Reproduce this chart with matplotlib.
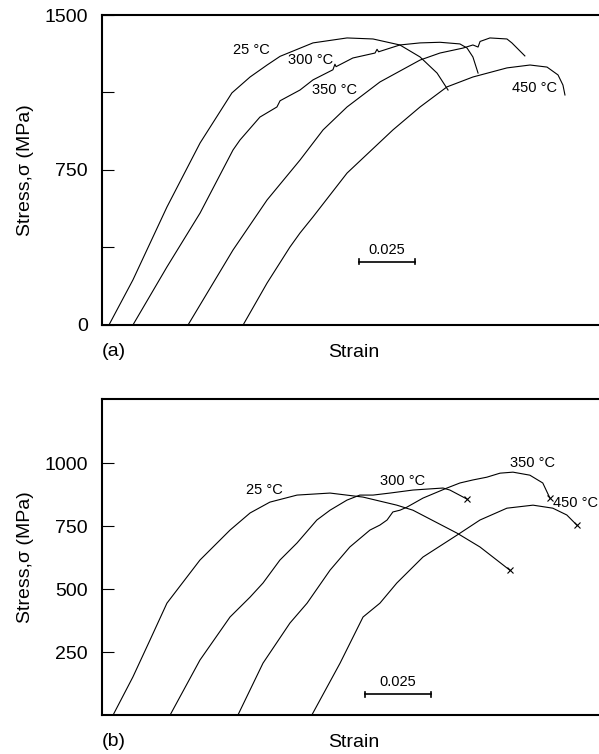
import matplotlib
matplotlib.use("Agg")
import matplotlib.pyplot as plt

plt.rcParams["font.family"] = ["Liberation Sans", "DejaVu Sans"]

# ---------------- panel (a) : strain, stress (MPa) ----------------
a_25_strain  = [0.0031, 0.0138, 0.0290, 0.0438, 0.0580, 0.0661, 0.0737, 0.0795, 0.0942, 0.1094, 0.1210,
                0.1330, 0.1420, 0.1496, 0.1545]
a_25_stress  = [0, 218, 571, 881, 1123, 1200, 1258, 1300, 1365, 1389, 1384, 1355, 1297, 1219, 1137]

a_300_strain = [0.0138, 0.0290, 0.0438, 0.0585, 0.0616, 0.0705, 0.0781, 0.0795, 0.0884, 0.0942, 0.1031,
                0.1040, 0.1045, 0.1120, 0.1219, 0.1228, 0.1235, 0.1330, 0.1420, 0.1509, 0.1598, 0.1630,
                0.1656, 0.1679]
a_300_stress = [0, 281, 542, 847, 895, 1006, 1055, 1085, 1137, 1186, 1235, 1262, 1250, 1292, 1316, 1334,
                1322, 1355, 1365, 1368, 1360, 1340, 1297, 1219]

a_350_strain = [0.0384, 0.0585, 0.0737, 0.0884, 0.0987, 0.1094, 0.1241, 0.1420, 0.1509, 0.1612, 0.1656,
                0.1679, 0.1688, 0.1732, 0.1808, 0.1830, 0.1888]
a_350_stress = [0, 363, 605, 798, 944, 1055, 1176, 1282, 1316, 1340, 1355, 1345, 1372, 1389, 1384, 1365, 1302]

a_450_strain = [0.0630, 0.0737, 0.0839, 0.0884, 0.0942, 0.1094, 0.1299, 0.1420, 0.1540, 0.1656, 0.1808,
                0.1911, 0.1987, 0.2036, 0.2058, 0.2067]
a_450_stress = [0, 203, 377, 445, 523, 735, 944, 1055, 1152, 1200, 1244, 1258, 1248, 1210, 1161, 1113]

# ---------------- panel (b) ----------------
b_25_strain  = [0.0042, 0.0117, 0.0182, 0.0246, 0.0322, 0.0371, 0.0485, 0.0561, 0.0636, 0.0739, 0.0864,
                0.0989, 0.1117, 0.1178, 0.1345, 0.1432, 0.1545]
b_25_stress  = [0, 151, 298, 444, 548, 615, 734, 802, 845, 873, 881, 865, 833, 813, 722, 667, 575]

b_300_strain = [0.0258, 0.0371, 0.0485, 0.0561, 0.0610, 0.0674, 0.0739, 0.0814, 0.0864, 0.0928, 0.0977,
                0.1027, 0.1091, 0.1178, 0.1292, 0.1318, 0.1383]
b_300_stress = [0, 218, 389, 468, 524, 615, 683, 774, 813, 853, 873, 873, 881, 893, 901, 893, 857]

b_350_strain = [0.0515, 0.0610, 0.0712, 0.0777, 0.0864, 0.0939, 0.1015, 0.1053, 0.1080, 0.1102, 0.1129,
                0.1155, 0.1216, 0.1307, 0.1356, 0.1405, 0.1458, 0.1508, 0.1557, 0.1621, 0.1670, 0.1697]
b_350_stress = [0, 206, 365, 444, 575, 667, 734, 754, 774, 806, 813, 825, 861, 901, 921, 933, 944, 960,
                964, 952, 921, 861]

b_450_strain = [0.0795, 0.0902, 0.0989, 0.1053, 0.1117, 0.1216, 0.1345, 0.1432, 0.1534, 0.1633, 0.1708,
                0.1761, 0.1799]
b_450_stress = [0, 206, 389, 444, 524, 627, 714, 774, 821, 833, 821, 794, 754]

labels = ["25 °C", "300 °C", "350 °C", "450 °C"]
a_label_pos = [(0.0665, 1331), (0.0929, 1282), (0.1040, 1137), (0.1933, 1147)]
b_label_pos = [(0.0617, 893), (0.1140, 929), (0.1630, 1000), (0.1795, 841)]

a_yticks = [0, 375, 750, 1125, 1500]
a_yticklabels = ["0", "", "750", "", "1500"]
b_yticks = [250, 500, 750, 1000]
b_yticklabels = ["250", "500", "750", "1000"]

fig = plt.figure(figsize=(5.99, 7.54), dpi=100)
ax_a = fig.add_axes([0.1703, 0.569, 0.84, 0.4111])
ax_b = fig.add_axes([0.1703, 0.0517, 0.84, 0.419])

curves_a = [(a_25_strain, a_25_stress), (a_300_strain, a_300_stress),
            (a_350_strain, a_350_stress), (a_450_strain, a_450_stress)]
curves_b = [(b_25_strain, b_25_stress), (b_300_strain, b_300_stress),
            (b_350_strain, b_350_stress), (b_450_strain, b_450_stress)]

panels = [
    (ax_a, curves_a, a_label_pos, 0.2219 * 0.84 / 0.8297, 1500, a_yticks, a_yticklabels, (0.1147, 305), "(a)"),
    (ax_b, curves_b, b_label_pos, 0.1883 * 0.84 / 0.8297, 1254, b_yticks, b_yticklabels, (0.0996, 83), "(b)"),
]

for ax, curves, lpos, xmax, ymax, yt, ytl, bar, tag in panels:
    for (xs, ys), lab, (lx, ly) in zip(curves, labels, lpos):
        ax.plot(xs, ys, color="black", lw=0.8)
        ax.text(lx, ly, lab, fontsize=10.5, ha="center", va="center")
        if ax is ax_b:
            # fracture points
            ax.plot(xs[-1], ys[-1], marker="x", color="black", ms=4, mew=0.8)

    # strain scale bar
    bx, by = bar
    tick_h = ymax * 0.008
    ax.plot([bx, bx + 0.025], [by, by], color="black", lw=1.2)
    ax.plot([bx, bx], [by - tick_h, by + tick_h], color="black", lw=1.2)
    ax.plot([bx + 0.025, bx + 0.025], [by - tick_h, by + tick_h], color="black", lw=1.2)
    ax.text(bx + 0.0125, by + ymax * 0.015, "0.025", fontsize=10.5, ha="center", va="bottom")

    ax.set_xlim(0, xmax)
    ax.set_ylim(0, ymax)
    ax.set_xticks([])
    ax.set_yticks(yt)
    ax.set_yticklabels(ytl, fontsize=14)
    ax.tick_params(axis="y", direction="in", length=8.5, width=0.8, pad=10)
    ax.spines["right"].set_visible(False)
    for s in ["left", "top", "bottom"]:
        ax.spines[s].set_linewidth(1.5)
    ax.set_ylabel("Stress,σ (MPa)", fontsize=14, labelpad=8)
    ax.set_xlabel("Strain", fontsize=14, labelpad=14)
    ax.text(0.0, -0.085, tag, transform=ax.transAxes, fontsize=14, ha="left", va="center")

fig.savefig("out.png", dpi=100)
